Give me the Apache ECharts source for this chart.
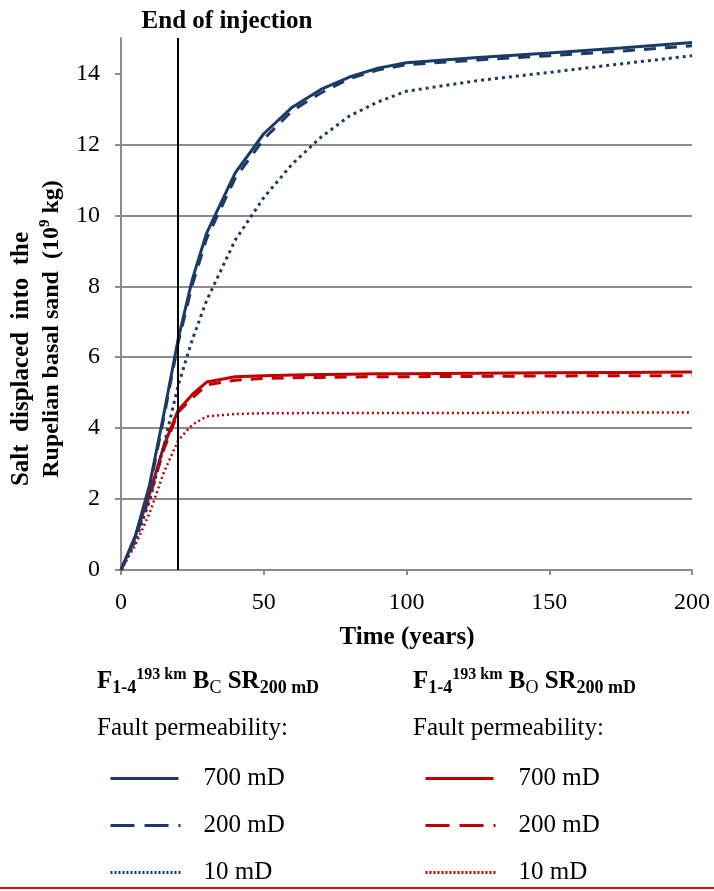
<!DOCTYPE html>
<html>
<head>
<meta charset="utf-8">
<script src="https://cdn.jsdelivr.net/npm/echarts@6/dist/echarts.min.js"></script>
<style>
  html, body { margin: 0; padding: 0; background: #fff; }
  #chart { width: 714px; height: 891px; }
</style>
</head>
<body>
<div id="chart"></div>
<script>
// time (years)
const years = [0, 5, 10, 15, 20, 25, 30, 40, 50, 60, 70, 80, 90, 100, 125, 150, 175, 200];

// salt displaced (10^9 kg), closed boundary (BC)
const bc700 = [0, 0.95, 2.4, 4.4, 6.5, 8.2, 9.5, 11.2, 12.3, 13.05, 13.55, 13.9, 14.15, 14.3, 14.45, 14.58, 14.72, 14.87];
const bc200 = [0, 0.9, 2.3, 4.3, 6.4, 8.05, 9.35, 11.05, 12.15, 12.95, 13.45, 13.85, 14.1, 14.25, 14.38, 14.5, 14.63, 14.78];
const bc10 = [0, 0.8, 1.95, 3.5, 5.2, 6.5, 7.6, 9.3, 10.5, 11.45, 12.2, 12.8, 13.2, 13.5, 13.8, 14.03, 14.27, 14.5];

// open boundary (BO)
const bo700 = [0, 0.95, 2.15, 3.5, 4.5, 4.95, 5.3, 5.45, 5.48, 5.5, 5.51, 5.52, 5.53, 5.53, 5.55, 5.56, 5.57, 5.58];
const bo200 = [0, 0.9, 2.05, 3.4, 4.45, 4.85, 5.22, 5.35, 5.4, 5.42, 5.43, 5.44, 5.45, 5.45, 5.46, 5.47, 5.48, 5.48];
const bo10 = [0, 0.7, 1.6, 2.75, 3.65, 4.1, 4.33, 4.4, 4.42, 4.42, 4.43, 4.43, 4.43, 4.43, 4.43, 4.44, 4.44, 4.44];

const xTicks = [0, 50, 100, 150, 200];
const yTicks = [0, 2, 4, 6, 8, 10, 12, 14];
const injectionEnd = 20;

const BLUE = '#1b3a66';
const RED = '#c00000';
const GRID = '#8c8c8c';
const SERIF = 'Liberation Serif';

const chart = echarts.init(document.getElementById('chart'));

function line(name, values, color, type, width) {
  return {
    name: name,
    type: 'line',
    symbol: 'none',
    data: years.map((t, i) => [t, values[i]]),
    lineStyle: { color: color, width: width, type: type, cap: 'butt' },
    itemStyle: { color: color },
    z: 3
  };
}

const series = [
  line('BO 10 mD', bo10, RED, [2, 3], 2.5),
  line('BO 200 mD', bo200, RED, [12, 9], 3),
  line('BO 700 mD', bo700, RED, 'solid', 3),
  line('BC 10 mD', bc10, BLUE, [3, 4], 3),
  line('BC 200 mD', bc200, BLUE, [12, 9], 3),
  line('BC 700 mD', bc700, BLUE, 'solid', 3)
];

series[0].markLine = {
  silent: true,
  symbol: ['none', 'none'],
  label: { show: false },
  lineStyle: { color: '#000', width: 2, type: 'solid' },
  data: [{ xAxis: injectionEnd }]
};

function legendCol(prefix, left) {
  return {
    orient: 'vertical',
    left: left,
    top: 761,
    itemWidth: 70,
    itemHeight: 14,
    itemGap: 22,
    selectedMode: false,
    itemStyle: { opacity: 0 },
    data: [
      { name: prefix + ' 700 mD', lineStyle: { width: 3, type: [68, 10] } },
      { name: prefix + ' 200 mD', lineStyle: { width: 3, type: [24, 10, 24, 10, 2, 10] } },
      { name: prefix + ' 10 mD', lineStyle: { width: 3, type: [2, 2] } }
    ],
    formatter: n => n.split(' ').slice(1).join(' '),
    textStyle: { fontFamily: SERIF, fontSize: 25, color: '#000', lineHeight: 24, padding: [0, 0, 0, 18] }
  };
}

const headRich = {
  b: { fontFamily: SERIF, fontSize: 25, fontWeight: 'bold', lineHeight: 30 },
  sup: { fontFamily: SERIF, fontSize: 16, fontWeight: 'bold', lineHeight: 20, verticalAlign: 'top' },
  sub: { fontFamily: SERIF, fontSize: 18, fontWeight: 'bold', lineHeight: 14, verticalAlign: 'bottom' },
  subr: { fontFamily: SERIF, fontSize: 18, lineHeight: 14, verticalAlign: 'bottom' }
};

function header(x, b) {
  return {
    type: 'text', left: x, top: 667,
    style: {
      text: '{b|F}{sub|1-4}{sup|193 km}{b| B}{subr|' + b + '}{b| SR}{sub|200 mD}',
      rich: headRich, fill: '#000'
    }
  };
}

function plainText(x, y, text, size, bold) {
  return {
    type: 'text', x: x, y: y,
    style: {
      text: text, fill: '#000', fontFamily: SERIF, fontSize: size,
      fontWeight: bold ? 'bold' : 'normal', align: 'left', verticalAlign: 'middle'
    }
  };
}

function centerText(x, y, text, rot) {
  return {
    type: 'text', x: x, y: y, rotation: rot || 0,
    style: {
      text: text, fill: '#000', fontFamily: SERIF, fontSize: 25,
      fontWeight: 'bold', align: 'center', verticalAlign: 'middle'
    }
  };
}

const option = {
  animation: false,
  backgroundColor: '#fff',
  grid: { left: 121, right: 22, top: 38, bottom: 321 },
  xAxis: {
    type: 'value', min: 0, max: 200, interval: 50,
    splitLine: { show: false },
    axisLine: { lineStyle: { color: GRID, width: 2 } },
    axisTick: { show: true, length: 5, lineStyle: { color: GRID, width: 2 } },
    axisLabel: {
      customValues: xTicks, margin: 21, color: '#000', fontFamily: SERIF, fontSize: 24
    }
  },
  yAxis: {
    type: 'value', min: 0, max: 15, interval: 2,
    axisLine: { show: true, lineStyle: { color: GRID, width: 2 } },
    axisTick: { show: true, length: 6, customValues: yTicks, lineStyle: { color: GRID, width: 2 } },
    splitLine: { show: true, showMaxLine: false, lineStyle: { color: GRID, width: 2 } },
    axisLabel: {
      customValues: yTicks, margin: 21, color: '#000', fontFamily: SERIF, fontSize: 24
    }
  },
  legend: [legendCol('BC', 104), legendCol('BO', 419)],
  series: series,
  graphic: [
    centerText(227, 22, 'End of injection'),
    centerText(407, 638, 'Time (years)'),
    centerText(22, 359, 'Salt  displaced  into  the', Math.PI / 2),
    {
      type: 'text', x: 52, y: 329, rotation: Math.PI / 2,
      style: {
        text: '{b|Rupelian basal sand  (10}{s|9}{b| kg)}',
        align: 'center', verticalAlign: 'middle', fill: '#000',
        rich: {
          b: { fontFamily: SERIF, fontSize: 24, fontWeight: 'bold', lineHeight: 28 },
          s: { fontFamily: SERIF, fontSize: 15, fontWeight: 'bold', lineHeight: 18, verticalAlign: 'top' }
        }
      }
    },
    header(97, 'C'),
    header(413, 'O'),
    plainText(97, 728, 'Fault permeability:', 25, false),
    plainText(413, 728, 'Fault permeability:', 25, false),
    {
      type: 'line',
      shape: { x1: 0, y1: 888, x2: 714, y2: 888 },
      style: { stroke: '#ff0000', lineWidth: 2 }
    }
  ]
};

chart.setOption(option);
</script>
</body>
</html>
